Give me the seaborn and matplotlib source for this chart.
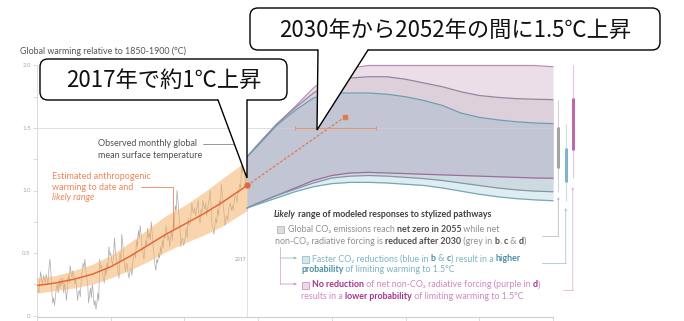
import numpy as np
import matplotlib
matplotlib.use("Agg")
import matplotlib.pyplot as plt
import matplotlib.transforms as mtransforms
from matplotlib.patches import FancyBboxPatch, Polygon, Rectangle
from matplotlib.lines import Line2D
import seaborn as sns

# ---------------- data ----------------
obs_years = np.arange(1960, 2017.01, 0.25)
obs_values = [
    0.30, 0.22, 0.18, 0.28, 0.35, 0.28, 0.25, 0.32, 0.30, 0.26, 0.33, 0.29,
    0.25, 0.38, 0.45, 0.36, 0.20, 0.10, 0.14, 0.08, 0.15, 0.22, 0.25, 0.18,
    0.28, 0.22, 0.30, 0.24, 0.30, 0.18, 0.26, 0.20, 0.12, 0.22, 0.32, 0.26,
    0.40, 0.34, 0.30, 0.36, 0.33, 0.25, 0.29, 0.22, 0.12, 0.18, 0.20, 0.15,
    0.28, 0.35, 0.42, 0.38, 0.45, 0.36, 0.30, 0.26, 0.10, 0.16, 0.22, 0.14,
    0.25, 0.18, 0.08, 0.12, 0.05, 0.10, 0.18, 0.12, 0.45, 0.38, 0.40, 0.34,
    0.30, 0.26, 0.38, 0.32, 0.42, 0.36, 0.55, 0.48, 0.50, 0.44, 0.40, 0.46,
    0.62, 0.52, 0.45, 0.40, 0.35, 0.30, 0.50, 0.44, 0.65, 0.58, 0.48, 0.42,
    0.35, 0.42, 0.40, 0.33, 0.30, 0.36, 0.38, 0.32, 0.42, 0.48, 0.50, 0.46,
    0.60, 0.55, 0.68, 0.62, 0.72, 0.64, 0.55, 0.50, 0.45, 0.52, 0.60, 0.56,
    0.70, 0.62, 0.66, 0.60, 0.75, 0.66, 0.55, 0.48, 0.40, 0.36, 0.45, 0.42,
    0.50, 0.46, 0.55, 0.49, 0.60, 0.54, 0.65, 0.62, 0.72, 0.66, 0.60, 0.64,
    0.55, 0.62, 0.68, 0.60, 0.75, 0.70, 0.88, 0.84, 1.00, 0.92, 0.80, 0.74,
    0.55, 0.60, 0.62, 0.56, 0.58, 0.64, 0.70, 0.62, 0.78, 0.72, 0.74, 0.80,
    0.90, 0.84, 0.82, 0.86, 0.80, 0.84, 0.88, 0.92, 0.78, 0.74, 0.85, 0.82,
    0.92, 0.88, 0.85, 0.90, 0.80, 0.84, 0.90, 0.94, 1.00, 0.86, 0.72, 0.70,
    0.65, 0.72, 0.78, 0.74, 0.85, 0.80, 0.92, 0.88, 1.05, 0.98, 0.88, 0.82,
    0.72, 0.78, 0.80, 0.76, 0.85, 0.88, 0.90, 0.84, 0.88, 0.84, 0.92, 0.96,
    0.95, 0.90, 1.00, 0.98, 1.05, 1.02, 1.20, 1.14, 1.35, 1.18, 1.05, 1.08,
    1.10,
]

anthro_years = [1960, 1965, 1970, 1975, 1980, 1985, 1990, 1995, 2000, 2005, 2010, 2017]
anthro_mid = [0.24, 0.26, 0.29, 0.33, 0.39, 0.47, 0.56, 0.65, 0.73, 0.81, 0.90, 1.04]
anthro_low = [0.18, 0.20, 0.22, 0.25, 0.30, 0.36, 0.43, 0.51, 0.58, 0.64, 0.71, 0.84]
anthro_high = [0.30, 0.32, 0.36, 0.41, 0.48, 0.58, 0.69, 0.80, 0.88, 0.98, 1.09, 1.24]

proj_years = [2017, 2020, 2025, 2030, 2035, 2040, 2045, 2050, 2055, 2060,
              2065, 2070, 2075, 2080, 2085, 2090, 2095, 2100]
purple_hi = [1.27, 1.37, 1.53, 1.67, 1.82, 1.93, 1.98, 2.00, 2.00, 2.00,
             2.00, 2.00, 2.00, 2.00, 2.00, 2.00, 2.00, 1.99]
purple_lo = [0.86, 0.90, 0.96, 1.02, 1.08, 1.12, 1.14, 1.145, 1.14, 1.135,
             1.13, 1.125, 1.12, 1.115, 1.11, 1.105, 1.10, 1.098]
grey_hi = [1.27, 1.37, 1.53, 1.66, 1.78, 1.86, 1.90, 1.91, 1.91, 1.89,
           1.86, 1.83, 1.79, 1.76, 1.745, 1.735, 1.73, 1.727]
grey_lo = [0.86, 0.90, 0.96, 1.01, 1.06, 1.10, 1.115, 1.12, 1.115, 1.105,
           1.095, 1.08, 1.06, 1.04, 1.02, 1.005, 0.995, 0.99]
blue_hi = [1.27, 1.36, 1.52, 1.64, 1.74, 1.78, 1.78, 1.78, 1.77, 1.75,
           1.72, 1.68, 1.62, 1.585, 1.565, 1.55, 1.54, 1.535]
blue_lo = [0.86, 0.89, 0.94, 0.99, 1.03, 1.055, 1.065, 1.065, 1.06, 1.05,
           1.04, 1.02, 0.995, 0.97, 0.95, 0.935, 0.925, 0.918]

trend_years = [2017, 2043.6]
trend_values = [1.04, 1.59]
cross_years = [2030, 2052]
cross_values = [1.5, 1.5]

bar_names = ["grey", "blue", "purple"]
bar_full_lo = [0.99, 0.918, 1.098]
bar_full_hi = [1.727, 1.535, 2.00]
bar_likely_lo = [1.18, 1.07, 1.325]
bar_likely_hi = [1.51, 1.34, 1.74]

ytick_values = [0, 0.5, 1.0, 1.5, 2.0]
ytick_labels = ["0", "0.5", "1.0", "1.5", "2.0"]
xtick_values = [1960, 1980, 2000, 2020, 2040, 2060, 2080, 2100]

# ---------------- style ----------------
sns.set_theme(style="white")
FAM = ["Lato", "DejaVu Sans"]
JFAM = ["Noto Sans CJK JP", "DejaVu Sans"]
plt.rcParams["font.family"] = FAM

W, H = 684, 321
fig = plt.figure(figsize=(W / 100, H / 100), dpi=100)
px = mtransforms.Affine2D().scale(1 / W, -1 / H).translate(0, 1) + fig.transFigure

ax = fig.add_axes([37 / W, (H - 317) / H, 545.5 / W, (317 - 59.25) / H])
ax.set_xlim(1960, 2108)
ax.set_ylim(-0.012, 2.05)
ax.set_facecolor("none")
for s in ["top", "right"]:
    ax.spines[s].set_visible(False)
ax.spines["left"].set_bounds(0, 2.0)
ax.spines["left"].set_color("#d6d6d6")
ax.spines["left"].set_linewidth(0.6)
ax.spines["bottom"].set_bounds(1960, 2100)
ax.spines["bottom"].set_color("#cfcfcf")
ax.spines["bottom"].set_linewidth(0.8)
ax.set_yticks(ytick_values)
ax.set_yticklabels(ytick_labels)
ax.set_yticks([0.25, 0.75, 1.25, 1.75], minor=True)
ax.set_xticks(xtick_values)
ax.set_xticklabels([])
ax.tick_params(axis="y", which="both", length=3, width=0.5, color="#cccccc",
               labelsize=4.4, labelcolor="#a8a8a8", pad=1.5, left=True)
ax.tick_params(axis="x", which="both", length=4, width=0.5, color="#cccccc", bottom=True)
ax.grid(False)

# 1.5 reference line (drawn over the bands, faint)
ax.hlines(1.5, 1960, 2100, color="#d0d0d0", lw=0.6, alpha=0.8, zorder=2.5)
# 2017 marker line
ax.vlines(2017, -0.012, 0.86, color="#dddddd", lw=0.6, zorder=1)
ax.text(2016.9, 0.45, "2017", fontsize=3.6, color="#9a9a9a", ha="right", va="center")

# observed monthly temperature
sns.lineplot(x=obs_years, y=obs_values, ax=ax, color="#a9a9a9", lw=0.5, zorder=2)

# anthropogenic warming
ax.fill_between(anthro_years, anthro_low, anthro_high, color="#f5b36c", alpha=0.55, lw=0, zorder=3)
sns.lineplot(x=anthro_years, y=anthro_mid, ax=ax, color="#e4663a", lw=1.1, zorder=4)
ax.plot(anthro_years[-1:], anthro_mid[-1:], "o", color="#e4663a", ms=3.5, zorder=6)

# projections: region colours painted in order
plo, phi = np.array(purple_lo), np.array(purple_hi)
glo, ghi = np.array(grey_lo), np.array(grey_hi)
blo, bhi = np.array(blue_lo), np.array(blue_hi)
ax.fill_between(proj_years, blo, bhi, color="#deedf1", lw=0, zorder=2)             # blue only
ax.fill_between(proj_years, glo, ghi, color="#cddae0", lw=0, zorder=2)             # grey & blue
ax.fill_between(proj_years, plo, phi, color="#ecdee8", lw=0, zorder=2)             # purple only
ax.fill_between(proj_years, np.maximum(glo, plo), np.minimum(ghi, phi),
                color="#ddd0da", lw=0, zorder=2)                                      # grey & purple
ax.fill_between(proj_years, np.maximum.reduce([glo, plo, blo]),
                np.minimum.reduce([ghi, phi, bhi]), color="#c2c5d4", lw=0, zorder=2)  # all three
edge_specs = [
    (purple_hi, "#b88fb2"), (grey_hi, "#8f889f"), (blue_hi, "#6c9fb0"),
    (purple_lo, "#9c6e9e"), (grey_lo, "#8497a8"), (blue_lo, "#74a8b8"),
]
for vals, col in edge_specs:
    sns.lineplot(x=proj_years, y=vals, ax=ax, color=col, lw=0.9, zorder=3)

# projected trend and 1.5 crossing range
ax.plot(trend_years, trend_values, ls=(0, (2.2, 1.4)), color="#e07a50", lw=0.9, zorder=5)
ax.plot(trend_years[-1:], trend_values[-1:], "s", color="#e07a50", ms=2.5, zorder=6)
ax.plot(cross_years, cross_values, color="#e39470", lw=0.8, marker="|", ms=3,
        mew=0.7, zorder=5)

# right-hand range bars
bar_x = [2101.4, 2103.4, 2105.3]
thin_cols = ["#d3d3d3", "#c6dee6", "#e5c8df"]
thick_cols = ["#a3a3a3", "#7fb6c6", "#bb6aab"]
for i in range(3):
    ax.vlines(bar_x[i], bar_full_lo[i], bar_full_hi[i], color=thin_cols[i], lw=0.8,
              clip_on=False, zorder=3)
    ax.vlines(bar_x[i], bar_likely_lo[i], bar_likely_hi[i], color=thick_cols[i], lw=2.2,
              clip_on=False, zorder=4)

# ---------------- texts ----------------
r = fig.canvas.get_renderer()


def tw(s, **kw):
    t1 = fig.text(0, 0, "|" + s + "|", **kw)
    t2 = fig.text(0, 0, "||", **kw)
    w = t1.get_window_extent(renderer=r).width - t2.get_window_extent(renderer=r).width
    t1.remove()
    t2.remove()
    return w


def rich(x, yc, parts, fs=6.4):
    yb = yc + 0.27 * fs * 100 / 72
    for part in parts:
        txt, col, wt, st = part[:4]
        kw = dict(fontsize=fs, color=col, fontweight=wt, fontstyle=st, family=FAM)
        fig.text(x, yb, txt, transform=px, va="baseline", ha="left", **kw)
        x += tw(txt, **kw)


fig.text(20, 51.7, "Global warming relative to 1850-1900 (°C)", transform=px,
         fontsize=6.4, color="#555555", va="center", ha="left")

fig.text(98, 143, "Observed monthly global", transform=px, fontsize=6.5,
         color="#505050", va="center", ha="left")
fig.text(98, 155.5, "mean surface temperature", transform=px, fontsize=6.5,
         color="#505050", va="center", ha="left")
fig.add_artist(Line2D([203, 243, 243], [144, 144, 151], transform=px, color="#888888", lw=0.6))

OR = "#ef8658"
fig.text(52, 176.5, "Estimated anthropogenic", transform=px, fontsize=6.5, color=OR,
         va="center", ha="left")
fig.text(52, 187, "warming to date and", transform=px, fontsize=6.5, color=OR,
         va="center", ha="left")
fig.text(52, 197.5, "likely range", transform=px, fontsize=6.5, color=OR,
         va="center", ha="left", fontstyle="italic")
fig.add_artist(Line2D([141, 173, 173], [187, 187, 228], transform=px, color=OR, lw=0.6))

G, GB = "#8f8f8f", "#4f4f4f"
B, BB = "#7db2c3", "#4a8ea4"
P, PB = "#cf88c1", "#a5338f"
n, b = "normal", "bold"
rich(274, 215, [("Likely", "#3f3f3f", b, "italic"),
                (" range of modeled responses to stylized pathways", "#3f3f3f", b, "normal")])
rich(287.5, 230, [("Global CO₂ emissions reach ", G, n, "normal"),
                  ("net zero in 2055", GB, b, "normal"),
                  (" while net", G, n, "normal")])
rich(275, 241.5, [("non-CO₂ radiative forcing is ", G, n, "normal"),
                  ("reduced after 2030", GB, b, "normal"),
                  (" (grey in ", G, n, "normal"), ("b", GB, b, "normal"),
                  (", ", G, n, "normal"), ("c", GB, b, "normal"),
                  (" & ", G, n, "normal"), ("d", GB, b, "normal"),
                  (")", G, n, "normal")])
rich(312, 259, [("Faster CO₂ reductions (blue in ", B, n, "normal"),
                ("b", BB, b, "normal"), (" & ", B, n, "normal"),
                ("c", BB, b, "normal"), (") result in a ", B, n, "normal"),
                ("higher", BB, b, "normal")])
rich(301, 270, [("probability", BB, b, "normal"),
                (" of limiting warming to 1.5°C", B, n, "normal")])
rich(312, 285, [("No reduction", PB, b, "normal"),
                (" of net non-CO₂ radiative forcing (purple in ", P, n, "normal"),
                ("d", PB, b, "normal"), (")", P, n, "normal")])
rich(301, 297, [("results in a ", P, n, "normal"),
                ("lower probability", PB, b, "normal"),
                (" of limiting warming to 1.5°C", P, n, "normal")])

# legend squares
for (x0, y0), fc, ec in [((277, 226), "#dcdcdc", "#b5b5b5"),
                         ((302, 255.5), "#d3e6ec", "#92bfcd"),
                         ((302, 281.5), "#efd6e9", "#d291c4")]:
    fig.add_artist(Rectangle((x0, y0), 7, 7, transform=px, fc=fc, ec=ec, lw=0.6))

# bracket arrows
fig.add_artist(Line2D([280, 280], [247, 284], transform=px, color="#d6afcc", lw=0.6))
for yy, col in [(258, "#9dbcc8"), (284, "#d39cc6")]:
    ax.annotate("", xy=(297, yy), xytext=(280, yy), xycoords=px, textcoords=px,
                arrowprops=dict(arrowstyle="-|>", color=col, lw=0.6,
                                mutation_scale=3.5, shrinkA=0, shrinkB=0))

# connectors from legend to bars
for (xl, yl, xb, ytop, col) in [(541.7, 235.7, 558.3, 197, "#bdbdbd"),
                                 (541.7, 263.3, 565.7, 208, "#aac8d2"),
                                 (563.3, 290.0, 572.7, 187, "#e0b5d6")]:
    fig.add_artist(Line2D([xl, xb], [yl, yl], transform=px, color=col, lw=0.6))
    ax.annotate("", xy=(xb, ytop), xytext=(xb, yl), xycoords=px, textcoords=px,
                arrowprops=dict(arrowstyle="-|>", color=col, lw=0.6,
                                mutation_scale=3.0, shrinkA=0, shrinkB=0))


# ---------------- callouts ----------------
def callout(x0, y0, x1, y1, bl, br, tip, text, fs=16):
    box = FancyBboxPatch((x0, y0), x1 - x0, y1 - y0,
                         boxstyle="round,pad=0,rounding_size=8", transform=px,
                         fc="white", ec="black", lw=1.0, zorder=20)
    fig.add_artist(box)
    poly = Polygon([(bl + 0.6, y1 - 1.3), (br - 0.6, y1 - 1.3), (br, y1), tip, (bl, y1)],
                   closed=True, transform=px, fc="white", ec="none", zorder=21)
    fig.add_artist(poly)
    fig.add_artist(Line2D([bl, tip[0], br], [y1, tip[1], y1], transform=px,
                          color="black", lw=1.0, zorder=22, solid_joinstyle="miter"))
    fig.text((x0 + x1) / 2, (y0 + y1) / 2 + 1, text, transform=px, fontsize=fs,
             family=JFAM, color="#111111", ha="center", va="center", zorder=23)


callout(40, 59, 287, 100, 218, 247, (247, 178), "2017年で約1℃上昇")
callout(250, 8, 660, 50, 318, 368, (317, 130), "2030年から2052年の間に1.5℃上昇")

fig.savefig("out.png", dpi=100)
